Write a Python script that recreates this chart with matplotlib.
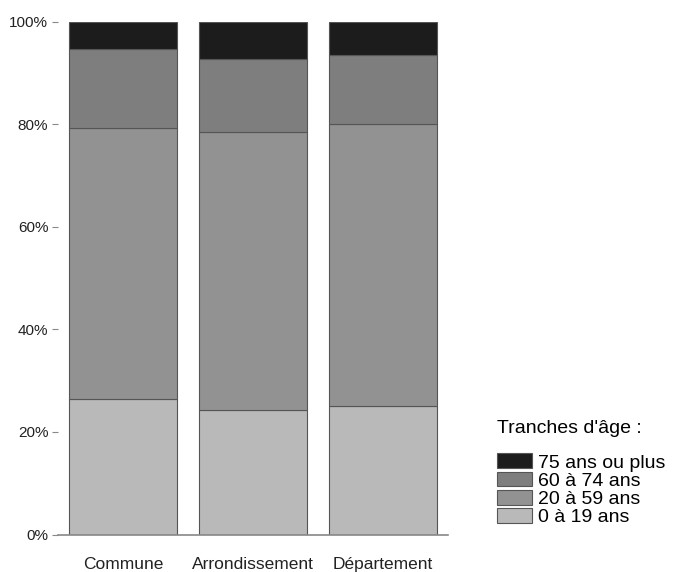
import numpy as np
import matplotlib.pyplot as plt
from matplotlib.patches import Patch
from matplotlib.ticker import PercentFormatter

plt.rcParams['font.family'] = ['Liberation Sans', 'DejaVu Sans']

zones = ['Commune', 'Arrondissement', 'Département']
tranches = ['0 à 19 ans', '20 à 59 ans', '60 à 74 ans', '75 ans ou plus']
age_0_19 = [26.4, 24.3, 25.0]
age_20_59 = [52.8, 54.2, 55.0]
age_60_74 = [15.4, 14.1, 13.5]
age_75_plus = [5.4, 7.4, 6.5]
couleurs = ['#b9b9b9', '#929292', '#7e7e7e', '#1c1c1c']

fig = plt.figure(figsize=(6.89, 5.72), dpi=100)
ax = fig.add_axes([58/689, 1 - 534.5/572, 390/689, 513/572])

x = np.arange(len(zones))
bottom = np.zeros(len(zones))
for vals, col in zip([age_0_19, age_20_59, age_60_74, age_75_plus], couleurs):
    ax.bar(x, vals, bottom=bottom, width=0.83, color=col,
           edgecolor='#555555', linewidth=0.8)
    bottom += np.array(vals)

ax.set_xlim(-0.5, 2.5)
ax.set_ylim(0, 100)
ax.set_yticks([0, 20, 40, 60, 80, 100])
ax.yaxis.set_major_formatter(PercentFormatter(decimals=0))
ax.set_xticks(x)
ax.set_xticklabels(zones, fontsize=12.5, color='#222222')
ax.tick_params(axis='x', length=0, pad=16)
ax.tick_params(axis='y', length=4, width=0.8, color='#888888',
               labelsize=11, labelcolor='#222222', pad=3)
for s in ['top', 'right', 'left']:
    ax.spines[s].set_visible(False)
ax.spines['bottom'].set_color('#888888')
ax.spines['bottom'].set_linewidth(1.2)

handles = [Patch(facecolor=c, edgecolor='#555555', linewidth=0.8)
           for c in couleurs[::-1]]
leg = fig.legend(handles, tranches[::-1], title="Tranches d'âge :",
                 loc='upper left', bbox_to_anchor=(487/689, 1 - 410/572),
                 frameon=False, fontsize=14, title_fontsize=14,
                 handlelength=1.8, handleheight=0.8, labelspacing=0.0,
                 handletextpad=0.3, borderpad=0, alignment='left')
leg._legend_box.sep = 12

fig.savefig('out.png', dpi=100)
